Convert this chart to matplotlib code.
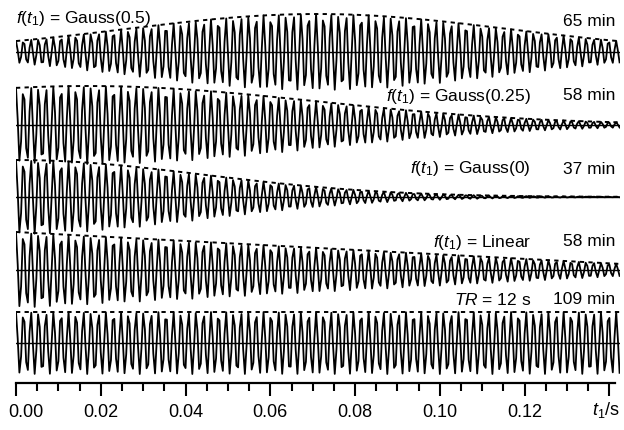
import numpy as np
import matplotlib.pyplot as plt
import matplotlib.transforms as mtransforms

plt.rcParams['font.family'] = ['Liberation Sans', 'DejaVu Sans']
plt.rcParams['mathtext.fontset'] = 'custom'
plt.rcParams['mathtext.rm'] = 'Liberation Sans'
plt.rcParams['mathtext.it'] = 'Liberation Sans:italic'

# acquisition / signal settings
t_max = 0.1425          # s, end of the FID
freq = 565.0            # Hz, apparent oscillation
dt = 0.0004             # s, sampling step

# envelope parameters per trace (top to bottom)
labels = ['Gauss(0.5)', 'Gauss(0.25)', 'Gauss(0)', 'Linear', None]
times = ['65 min', '58 min', '37 min', '58 min', '109 min']
gauss_center = [0.071, 0.017, 0.0]   # s
gauss_width = [0.045, 0.054, 0.044]  # s
linear_end = 0.16
amp = [38, 39, 37, 38, 31]
tick_vals = [0, 0.02, 0.04, 0.06, 0.08, 0.10, 0.12, 0.14]
tick_labels = ['0.00', '0.02', '0.04', '0.06', '0.08', '0.10', '0.12', '']

t = np.arange(0, t_max + dt / 2, dt)
tf = np.linspace(0, t_max, 600)


def envelope(i, x):
    if i < 3:
        return np.exp(-0.5 * ((x - gauss_center[i]) / gauss_width[i]) ** 2)
    if i == 3:
        return 1 - (1 - linear_end) * x / t_max
    return np.ones_like(x)


fig = plt.figure(figsize=(6.24, 4.30), dpi=100)
ax = fig.add_axes([16 / 624, 47 / 430, 604 / 624, 383 / 430])

base = [331, 258, 186, 113, 40]
for i in range(5):
    y0 = base[i]
    a = amp[i]
    ax.plot(t, y0 + a * envelope(i, t) * np.cos(2 * np.pi * freq * t),
            color='black', lw=1.3)
    ax.plot(tf, y0 + a * envelope(i, tf), color='black', lw=1.4,
            ls=(0, (2.2, 2.2)))
    ax.plot([0, t_max], [y0, y0], color='black', lw=1.0)

# labels
fs = 12.5
ax.text(0, 364, r'$f$($t_1$) = Gauss(0.5)', fontsize=fs, ha='left', va='center')
ax.text(0.1413, 362, times[0], fontsize=fs, ha='right', va='center')
ytxt = [0, 287, 214, 141, 83]
for i in range(1, 5):
    if labels[i] is not None:
        s = r'$f$($t_1$) = ' + labels[i]
    else:
        s = r'$TR$ = 12 s'
    ax.text(0.1215, ytxt[i], s, fontsize=fs, ha='right', va='center')
    ax.text(0.1413, ytxt[i], times[i], fontsize=fs, ha='right', va='center')

ax.set_xlim(0, t_max)
ax.set_ylim(0, 383)
for s in ['top', 'left', 'right']:
    ax.spines[s].set_visible(False)
ax.spines['bottom'].set_linewidth(1.6)
ax.spines['bottom'].set_bounds(0, 0.1413)
ax.set_yticks([])
ax.set_xticks(tick_vals)
ax.set_xticklabels(tick_labels)
ax.set_xticks(np.arange(0, 0.1401, 0.005), minor=True)
ax.tick_params(axis='x', which='major', direction='out', length=9, width=1.5,
               labelsize=13, pad=6)
ax.tick_params(axis='x', which='minor', direction='out', length=6, width=1.5)
first = ax.get_xticklabels()[0]
first.set_horizontalalignment('left')
first.set_transform(first.get_transform() +
                    mtransforms.ScaledTranslation(-8 / 100, 0, fig.dpi_scale_trans))
ax.text(t_max, -27, r'$t_1$/s', fontsize=13, ha='right', va='center')

fig.savefig('out.png', dpi=100)
